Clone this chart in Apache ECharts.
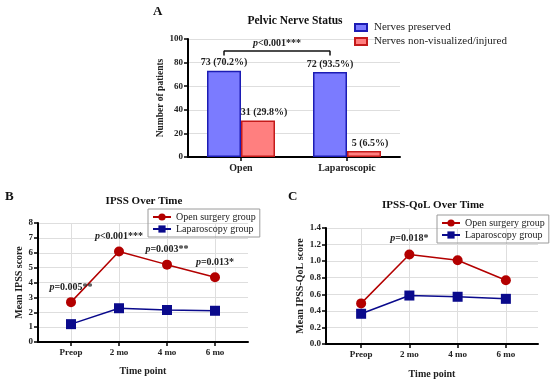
<!DOCTYPE html>
<html>
<head>
<meta charset="utf-8">
<script src="https://cdn.jsdelivr.net/npm/echarts@6/dist/echarts.min.js"></script>
<style>html,body{margin:0;padding:0;background:#fff}#c{width:550px;height:383px}</style>
</head>
<body>
<div id="c"></div>
<script>
const categoriesA = ['Open', 'Laparoscopic'];
const preserved = [73, 72];
const injured = [31, 5];
const preservedPct = ['70.2%', '93.5%'];
const injuredPct = ['29.8%', '6.5%'];
const bracketText = '<0.001***';

const timePoints = ['Preop', '2 mo', '4 mo', '6 mo'];
const ipssOpen = [2.68, 6.08, 5.2, 4.35];
const ipssLap = [1.2, 2.27, 2.15, 2.1];
const ipssP = ['=0.005**', '<0.001***', '=0.003**', '=0.013*'];
const qolOpen = [0.49, 1.08, 1.01, 0.77];
const qolLap = [0.365, 0.585, 0.57, 0.545];
const qolP = ['', '=0.018*', '', ''];

const F = 'Liberation Serif';
const RED = '#b30000', BLUE = '#0a0a8c';
const GRID_LINE = {show: true, lineStyle: {color: '#dedede', width: 1}};
const AX_LINE = {show: true, onZero: false, lineStyle: {color: '#000', width: 2}};
const TICK = {show: true, length: 4, lineStyle: {color: '#000', width: 1.5}};
const pRich = {
  i: {fontFamily: F, fontStyle: 'italic', fontWeight: 'bold', fontSize: 10, color: '#222'},
  b: {fontFamily: F, fontWeight: 'bold', fontSize: 10, color: '#222'}
};

const chart = echarts.init(document.getElementById('c'));
chart.setOption({
  animation: false,
  backgroundColor: '#fff',
  graphic: [
    {type: 'text', left: 153, top: 5, style: {text: 'A', font: 'bold 13px ' + F, fill: '#111'}},
    {type: 'text', x: 295, y: 21, style: {text: 'Pelvic Nerve Status', font: 'bold 11.5px ' + F, fill: '#111', textAlign: 'center', textVerticalAlign: 'middle'}},
    {type: 'text', left: 5, top: 190, style: {text: 'B', font: 'bold 13px ' + F, fill: '#111'}},
    {type: 'text', x: 144, y: 201, style: {text: 'IPSS Over Time', font: 'bold 11px ' + F, fill: '#111', textAlign: 'center', textVerticalAlign: 'middle'}},
    {type: 'text', left: 288, top: 190, style: {text: 'C', font: 'bold 13px ' + F, fill: '#111'}},
    {type: 'text', x: 433, y: 205, style: {text: 'IPSS-QoL Over Time', font: 'bold 11px ' + F, fill: '#111', textAlign: 'center', textVerticalAlign: 'middle'}}
  ],
  legend: [
    {data: ['Nerves preserved', 'Nerves non-visualized/injured'], orient: 'vertical', left: 354, top: 22,
     icon: 'rect', itemWidth: 12, itemHeight: 7, itemGap: 3, padding: 0,
     textStyle: {fontFamily: F, fontSize: 11, color: '#222', padding: [0, 0, 0, 2]}},
    {data: ['Open surgery group', 'Laparoscopy group'], orient: 'vertical', left: 148, top: 209,
     borderColor: '#9a9a9a', borderWidth: 1, padding: [3, 4], itemGap: 2, itemWidth: 18, itemHeight: 9,
     textStyle: {fontFamily: F, fontSize: 10, color: '#222'}},
    {data: ['Open surgery group', 'Laparoscopy group'], orient: 'vertical', left: 437, top: 215,
     borderColor: '#9a9a9a', borderWidth: 1, padding: [3, 4], itemGap: 2, itemWidth: 18, itemHeight: 9,
     textStyle: {fontFamily: F, fontSize: 10, color: '#222'}}
  ],
  grid: [
    {left: 188, width: 212, top: 39, height: 118},
    {left: 38, width: 210, top: 223, height: 119},
    {left: 47, width: 192, top: 223, height: 119},
    {left: 326, width: 212, top: 228, height: 116},
    {left: 337, width: 193, top: 228, height: 116}
  ],
  xAxis: [
    {gridIndex: 0, type: 'category', data: categoriesA, axisLine: AX_LINE,
     axisTick: Object.assign({alignWithLabel: true}, TICK),
     axisLabel: {fontFamily: F, fontWeight: 'bold', fontSize: 10, color: '#222', margin: 6}},
    {gridIndex: 1, type: 'value', min: 0, max: 1, axisLine: AX_LINE, axisTick: {show: false},
     axisLabel: {show: false}, splitLine: {show: false},
     name: 'Time point', nameLocation: 'middle', nameGap: 24,
     nameTextStyle: {fontFamily: F, fontWeight: 'bold', fontSize: 10, color: '#222'}},
    {gridIndex: 2, type: 'category', data: timePoints, axisLine: {show: false},
     axisTick: Object.assign({alignWithLabel: true}, TICK),
     splitLine: Object.assign({alignWithLabel: true}, GRID_LINE),
     axisLabel: {fontFamily: F, fontWeight: 'bold', fontSize: 9, color: '#222', margin: 6}},
    {gridIndex: 3, type: 'value', min: 0, max: 1, axisLine: AX_LINE, axisTick: {show: false},
     axisLabel: {show: false}, splitLine: {show: false},
     name: 'Time point', nameLocation: 'middle', nameGap: 25,
     nameTextStyle: {fontFamily: F, fontWeight: 'bold', fontSize: 10, color: '#222'}},
    {gridIndex: 4, type: 'category', data: timePoints, axisLine: {show: false},
     axisTick: Object.assign({alignWithLabel: true}, TICK),
     splitLine: Object.assign({alignWithLabel: true}, GRID_LINE),
     axisLabel: {fontFamily: F, fontWeight: 'bold', fontSize: 9, color: '#222', margin: 6}}
  ],
  yAxis: [
    {gridIndex: 0, type: 'value', min: 0, max: 100, interval: 20, axisLine: AX_LINE, axisTick: TICK,
     splitLine: GRID_LINE,
     axisLabel: {fontFamily: F, fontWeight: 'bold', fontSize: 9, color: '#222', margin: 5},
     name: 'Number of patients', nameLocation: 'middle', nameGap: 16, nameRotate: 90,
     nameTextStyle: {fontFamily: F, fontWeight: 'bold', fontSize: 9.5, color: '#222'}},
    {gridIndex: 1, type: 'value', min: 0, max: 8, interval: 1, axisLine: AX_LINE, axisTick: TICK,
     splitLine: GRID_LINE,
     axisLabel: {fontFamily: F, fontWeight: 'bold', fontSize: 9, color: '#222', margin: 5},
     name: 'Mean IPSS score', nameLocation: 'middle', nameGap: 12, nameRotate: 90,
     nameTextStyle: {fontFamily: F, fontWeight: 'bold', fontSize: 10, color: '#222'}},
    {gridIndex: 2, type: 'value', min: 0, max: 8, show: false},
    {gridIndex: 3, type: 'value', min: 0, max: 1.4, interval: 0.2, axisLine: AX_LINE, axisTick: TICK,
     splitLine: GRID_LINE,
     axisLabel: {fontFamily: F, fontWeight: 'bold', fontSize: 9, color: '#222', margin: 5,
       formatter: v => v.toFixed(1)},
     name: 'Mean IPSS-QoL score', nameLocation: 'middle', nameGap: 17, nameRotate: 90,
     nameTextStyle: {fontFamily: F, fontWeight: 'bold', fontSize: 10, color: '#222'}},
    {gridIndex: 4, type: 'value', min: 0, max: 1.4, show: false}
  ],
  series: [
    {name: 'Nerves preserved', type: 'bar', xAxisIndex: 0, yAxisIndex: 0, data: preserved,
     barWidth: 34, barGap: '0%',
     itemStyle: {color: '#7b7bff', borderColor: '#1c1cb4', borderWidth: 1.5},
     label: {show: true, position: 'top', distance: 3, fontFamily: F, fontWeight: 'bold', fontSize: 10, color: '#222',
       formatter: p => p.value + ' (' + preservedPct[p.dataIndex] + ')'},
     markLine: {silent: true, symbol: 'none', animation: false,
       lineStyle: {color: '#111', width: 1.5, type: 'solid'},
       label: {show: false},
       data: [
         [{coord: [categoriesA[0], 90], label: {show: true, position: 'middle', distance: 2,
            formatter: '{i|p}{b|' + bracketText + '}', rich: pRich}},
          {coord: [categoriesA[1], 90]}],
         [{coord: [categoriesA[0], 90]}, {coord: [categoriesA[0], 86]}],
         [{coord: [categoriesA[1], 90]}, {coord: [categoriesA[1], 86]}]
       ]}},
    {name: 'Nerves non-visualized/injured', type: 'bar', xAxisIndex: 0, yAxisIndex: 0, data: injured,
     barWidth: 34,
     itemStyle: {color: '#ff7f7f', borderColor: '#c41a1a', borderWidth: 1.5},
     label: {show: true, position: 'top', distance: 3, offset: [6, 0], fontFamily: F, fontWeight: 'bold', fontSize: 10, color: '#222',
       formatter: p => p.value + ' (' + injuredPct[p.dataIndex] + ')'}},
    {name: 'Open surgery group', type: 'line', xAxisIndex: 2, yAxisIndex: 2, data: ipssOpen,
     symbol: 'circle', symbolSize: 10, z: 5, color: RED, lineStyle: {color: RED, width: 1.5},
     label: {show: true, position: 'top', distance: 5, rich: pRich,
       formatter: p => ipssP[p.dataIndex] ? '{i|p}{b|' + ipssP[p.dataIndex] + '}' : ''}},
    {name: 'Laparoscopy group', type: 'line', xAxisIndex: 2, yAxisIndex: 2, data: ipssLap,
     symbol: 'rect', symbolSize: 10, z: 5, color: BLUE, lineStyle: {color: BLUE, width: 1.5}},
    {name: 'Open surgery group', type: 'line', xAxisIndex: 4, yAxisIndex: 4, data: qolOpen,
     symbol: 'circle', symbolSize: 10, z: 5, color: RED, lineStyle: {color: RED, width: 1.5},
     label: {show: true, position: 'top', distance: 6, rich: pRich,
       formatter: p => qolP[p.dataIndex] ? '{i|p}{b|' + qolP[p.dataIndex] + '}' : ''}},
    {name: 'Laparoscopy group', type: 'line', xAxisIndex: 4, yAxisIndex: 4, data: qolLap,
     symbol: 'rect', symbolSize: 10, z: 5, color: BLUE, lineStyle: {color: BLUE, width: 1.5}}
  ]
});
</script>
</body>
</html>
